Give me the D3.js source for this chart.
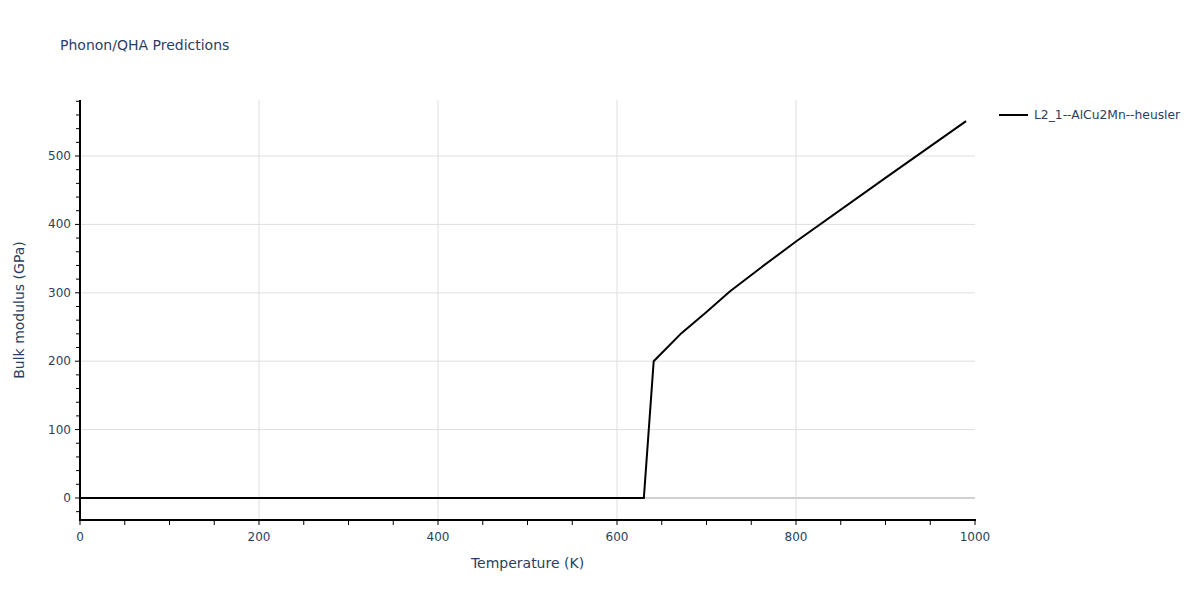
<!DOCTYPE html>
<html><head><meta charset="utf-8">
<script src="https://cdn.jsdelivr.net/npm/d3@7"></script>
<style>body{margin:0;background:#fff}svg{font-family:"DejaVu Sans",verdana,arial,sans-serif}</style>
</head><body><svg id="c" width="1200" height="600"></svg>
<script>
const seriesName = "L2_1--AlCu2Mn--heusler";
const temperature = [0, 100, 200, 300, 400, 500, 600, 630, 641, 672, 700, 726, 760, 800, 900, 990];
const bulkModulus = [0, 0, 0, 0, 0, 0, 0, 0, 200, 241, 272, 302, 336, 375, 468, 551];
const xTicks = [0, 200, 400, 600, 800, 1000];
const yTicks = [0, 100, 200, 300, 400, 500];

const svg = d3.select("#c");
const L = 80, R = 975, T = 100, B = 520;
const x = d3.scaleLinear().domain([0, 1000]).range([L, R]);
const y = d3.scaleLinear().domain([-32.2, 581.9]).range([B, T]);
const txt = "#2a3f5f";

// grid
svg.append("g").selectAll("line").data(xTicks.filter(d => d > 0 && d < 1000)).join("line")
  .attr("x1", d => x(d)).attr("x2", d => x(d)).attr("y1", T).attr("y2", B)
  .attr("stroke", "#dedede").attr("stroke-width", 1);
svg.append("g").selectAll("line").data(yTicks.filter(d => d !== 0)).join("line")
  .attr("x1", L).attr("x2", R).attr("y1", d => y(d)).attr("y2", d => y(d))
  .attr("stroke", "#dedede").attr("stroke-width", 1);
svg.append("line").attr("x1", L).attr("x2", R).attr("y1", y(0)).attr("y2", y(0))
  .attr("stroke", "#d0d0d0").attr("stroke-width", 2);

// line
svg.append("path").datum(temperature.map((t, i) => [t, bulkModulus[i]]))
  .attr("fill", "none").attr("stroke", "#000").attr("stroke-width", 2)
  .attr("d", d3.line().x(d => x(d[0])).y(d => y(d[1])));

// x axis
const xMinor = d3.range(0, 1001, 50);
const xg = svg.append("g").attr("transform", `translate(0,${B})`);
xg.append("line").attr("x1", L - 1).attr("x2", R + 1).attr("stroke", "#000").attr("stroke-width", 2);
xg.selectAll(".mt").data(xMinor).join("line")
  .attr("x1", d => x(d)).attr("x2", d => x(d)).attr("y1", 0).attr("y2", 5)
  .attr("stroke", "#000").attr("stroke-width", 1);
xg.selectAll("text").data(xTicks).join("text")
  .attr("x", d => x(d)).attr("y", 21).attr("text-anchor", "middle")
  .attr("font-size", 12).attr("fill", txt).text(d => d);

// y axis
const yMinor = d3.range(-20, 581, 20);
const yg = svg.append("g").attr("transform", `translate(${L},0)`);
yg.append("line").attr("y1", T).attr("y2", B + 1).attr("stroke", "#000").attr("stroke-width", 2);
yg.selectAll(".mt").data(yMinor).join("line")
  .attr("x1", 0).attr("x2", d => d % 100 === 0 ? -5 : -4).attr("y1", d => y(d)).attr("y2", d => y(d))
  .attr("stroke", "#000").attr("stroke-width", 1);
yg.selectAll("text").data(yTicks).join("text")
  .attr("x", -9).attr("y", d => y(d) + 4).attr("text-anchor", "end")
  .attr("font-size", 12).attr("fill", txt).text(d => d);

// titles
svg.append("text").attr("x", 60).attr("y", 50).attr("font-size", 14).attr("fill", txt).text("Phonon/QHA Predictions");
svg.append("text").attr("x", (L + R) / 2).attr("y", 568).attr("text-anchor", "middle")
  .attr("font-size", 14).attr("fill", txt).text("Temperature (K)");
svg.append("text").attr("transform", `translate(24,${(T + B) / 2}) rotate(-90)`).attr("text-anchor", "middle")
  .attr("font-size", 14).attr("fill", txt).text("Bulk modulus (GPa)");

// legend
svg.append("line").attr("x1", 999).attr("x2", 1028).attr("y1", 115).attr("y2", 115).attr("stroke", "#000").attr("stroke-width", 2);
svg.append("text").attr("x", 1034).attr("y", 119).attr("font-size", 12.3).attr("fill", txt).text(seriesName);
</script></body></html>
